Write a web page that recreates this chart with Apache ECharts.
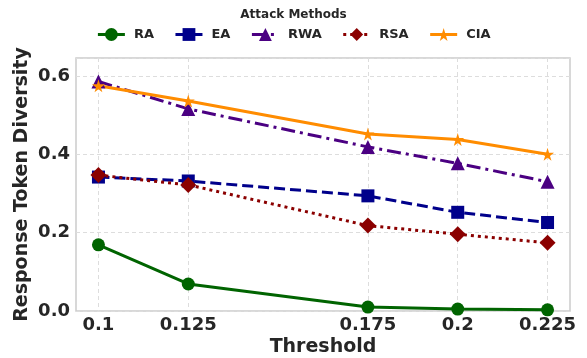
<!DOCTYPE html>
<html>
<head>
<meta charset="utf-8">
<script src="https://cdn.jsdelivr.net/npm/echarts@6/dist/echarts.min.js"></script>
<style>
    html, body { margin: 0; padding: 0; background: #fff; }
    #chart { width: 587px; height: 358px; }
</style>
</head>
<body>
<div id="chart"></div>
<script>
// thresholds on the x axis
const thresholds = [0.1, 0.125, 0.175, 0.2, 0.225]
const methodNames = ['RA', 'EA', 'RWA', 'RSA', 'CIA']

const raValues = [0.169, 0.069, 0.010, 0.005, 0.003]
const eaValues = [0.342, 0.332, 0.294, 0.252, 0.226]
const rwaValues = [0.586, 0.516, 0.419, 0.377, 0.330]
const rsaValues = [0.347, 0.322, 0.218, 0.196, 0.174]
const ciaValues = [0.575, 0.536, 0.452, 0.438, 0.400]

const starPath = 'path://M50,0 L61,35 L98,35 L68,57 L79,91 L50,70 L21,91 L32,57 L2,35 L39,35 Z'
const textColor = '#262626'
const fontFamily = 'DejaVu Sans'

function pairs(vals) {
    return thresholds.map((t, i) => [t, vals[i]])
}

function makeSeries(name, vals, color, lineType, symbol, symbolSize) {
    return {
        name: name,
        type: 'line',
        data: pairs(vals),
        symbol: symbol,
        symbolSize: symbolSize,
        smooth: false,
        z: 3,
        itemStyle: { color: color },
        lineStyle: { color: color, width: 3, type: lineType, cap: 'butt' },
        emphasis: { disabled: true }
    }
}

const chart = echarts.init(document.getElementById('chart'))
chart.setOption({
    animation: false,
    backgroundColor: '#fff',
    textStyle: { fontFamily: fontFamily },
    title: {
        text: 'Attack Methods',
        left: 'center',
        top: 4,
        textStyle: { fontSize: 12, fontWeight: 'bold', color: textColor, fontFamily: fontFamily }
    },
    legend: {
        data: methodNames,
        top: 23,
        left: 'center',
        itemWidth: 27,
        itemHeight: 16,
        itemGap: 20,
        lineStyle: { width: 3 },
        textStyle: { fontSize: 13, fontWeight: 'bold', color: textColor, fontFamily: fontFamily, padding: [0, 0, 0, 4] }
    },
    grid: {
        left: 76,
        right: 17,
        top: 58,
        bottom: 47,
        outerBoundsMode: 'none',
        show: true,
        borderColor: '#cccccc',
        borderWidth: 1.5,
        backgroundColor: 'transparent'
    },
    xAxis: {
        type: 'value',
        min: 0.09375,
        max: 0.23125,
        name: 'Threshold',
        nameLocation: 'middle',
        nameGap: 27,
        nameMoveOverlap: false,
        nameTextStyle: { fontSize: 19, fontWeight: 'bold', color: textColor, fontFamily: fontFamily },
        axisLine: { show: false },
        axisTick: { show: false, customValues: thresholds },
        axisLabel: {
            customValues: thresholds,
            fontSize: 18,
            fontWeight: 'bold',
            color: textColor,
            fontFamily: fontFamily,
            margin: 5,
            formatter: v => String(v)
        },
        splitLine: { show: true, lineStyle: { color: '#dddddd', type: [4, 3], width: 1 } }
    },
    yAxis: {
        type: 'value',
        min: 0,
        max: 0.646,
        interval: 0.2,
        name: 'Response Token Diversity',
        nameLocation: 'middle',
        nameGap: 44,
        nameMoveOverlap: false,
        nameTextStyle: { fontSize: 19, fontWeight: 'bold', color: textColor, fontFamily: fontFamily },
        axisLine: { show: false },
        axisTick: { show: false },
        axisLabel: {
            showMaxLabel: false,
            fontSize: 18,
            fontWeight: 'bold',
            color: textColor,
            fontFamily: fontFamily,
            margin: 6,
            formatter: v => v.toFixed(1)
        },
        splitLine: { show: true, lineStyle: { color: '#dddddd', type: [4, 3], width: 1 } }
    },
    series: [
        makeSeries('RA', raValues, '#006400', 'solid', 'circle', 13),
        makeSeries('EA', eaValues, '#00008b', [11, 5], 'rect', 13),
        makeSeries('RWA', rwaValues, '#4b0082', [14, 5, 3, 5], 'triangle', 14),
        makeSeries('RSA', rsaValues, '#8b0000', [3, 4], 'diamond', 16),
        makeSeries('CIA', ciaValues, '#ff8c00', 'solid', starPath, 13)
    ]
})
</script>
</body>
</html>
